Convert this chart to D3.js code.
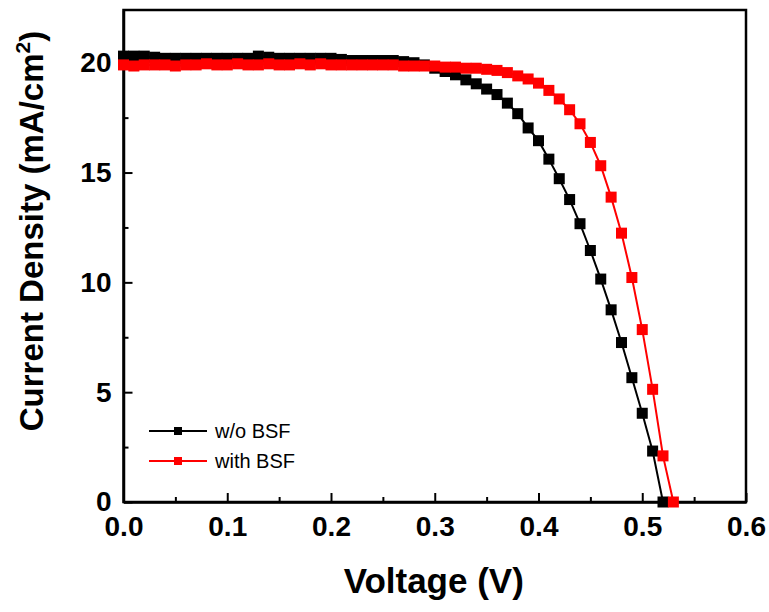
<!DOCTYPE html>
<html>
<head>
<meta charset="utf-8">
<script src="https://cdn.jsdelivr.net/npm/d3@7"></script>
<style>
  body { margin: 0; background: #fff; }
  svg text { font-family: "Liberation Sans", Arial, sans-serif; }
</style>
</head>
<body>
<svg width="769" height="612"></svg>
<script>
// voltage points (V)
const voltageA = [0.00,0.01,0.02,0.03,0.04,0.05,0.06,0.07,0.08,0.09,
    0.10,0.11,0.12,0.13,0.14,0.15,0.16,0.17,0.18,0.19,
    0.20,0.21,0.22,0.23,0.24,0.25,0.26,0.27,0.28,0.29,
    0.30,0.31,0.32,0.33,0.34,0.35,0.36,0.37,0.38,0.39,
    0.40,0.41,0.42,0.43,0.44,0.45,0.46,0.47,0.48,0.49,
    0.50,0.51,0.52];
const voltageB = [0.00,0.01,0.02,0.03,0.04,0.05,0.06,0.07,0.08,0.09,
    0.10,0.11,0.12,0.13,0.14,0.15,0.16,0.17,0.18,0.19,
    0.20,0.21,0.22,0.23,0.24,0.25,0.26,0.27,0.28,0.29,
    0.30,0.31,0.32,0.33,0.34,0.35,0.36,0.37,0.38,0.39,
    0.40,0.41,0.42,0.43,0.44,0.45,0.46,0.47,0.48,0.49,
    0.50,0.51,0.52,0.53];

// current density (mA/cm2)
const noBSF = [20.3,20.3,20.3,20.25,20.2,20.2,20.2,20.2,20.2,20.2,
    20.2,20.2,20.2,20.3,20.25,20.2,20.2,20.2,20.2,20.2,
    20.2,20.15,20.1,20.1,20.1,20.1,20.1,20.05,20.0,19.9,
    19.75,19.6,19.45,19.22,19.04,18.8,18.55,18.16,17.68,17.03,
    16.45,15.61,14.72,13.77,12.67,11.45,10.15,8.75,7.26,5.66,
    4.04,2.32,0.0];
const withBSF = [19.9,19.85,19.9,19.9,19.9,19.85,19.9,19.9,19.95,19.9,
    19.9,19.95,19.9,19.9,19.95,19.9,19.9,19.95,19.9,19.95,
    19.9,19.9,19.9,19.9,19.9,19.9,19.9,19.85,19.85,19.85,
    19.85,19.8,19.8,19.75,19.75,19.7,19.65,19.55,19.4,19.26,
    19.07,18.74,18.35,17.86,17.22,16.37,15.31,13.88,12.24,10.22,
    7.85,5.13,2.10,0.0];

const seriesNames = ["w/o BSF", "with BSF"];
const seriesColors = ["#000000", "#ff0000"];

const xMajor = [0, 0.1, 0.2, 0.3, 0.4, 0.5, 0.6];
const xMinor = [0.05, 0.15, 0.25, 0.35, 0.45, 0.55];
const yMajor = [0, 5, 10, 15, 20];
const yMinor = [2.5, 7.5, 12.5, 17.5];

const svg = d3.select("svg");
const plotL = 123.5, plotR = 746, plotT = 10, plotB = 502;

const x = d3.scaleLinear().domain([0, 0.6]).range([plotL, plotR]);
const y = d3.scaleLinear().domain([0, 22.4]).range([plotB, plotT]);

// frame
svg.append("rect")
    .attr("x", plotL).attr("y", plotT)
    .attr("width", plotR - plotL).attr("height", plotB - plotT)
    .attr("fill", "none").attr("stroke", "#000").attr("stroke-width", 2.5);

// axes, ticks pointing inward
svg.append("g")
    .attr("transform", "translate(0," + plotB + ")")
    .call(d3.axisBottom(x).tickValues(xMajor).tickFormat(d3.format(".1f"))
        .tickSizeInner(-9).tickSizeOuter(0).tickPadding(14));
svg.append("g")
    .attr("transform", "translate(0," + plotB + ")")
    .call(d3.axisBottom(x).tickValues(xMinor).tickFormat("")
        .tickSizeInner(-5).tickSizeOuter(0))
    .select(".domain").remove();

svg.append("g")
    .attr("transform", "translate(" + plotL + ",0)")
    .call(d3.axisLeft(y).tickValues(yMajor)
        .tickSizeInner(-9).tickSizeOuter(0).tickPadding(12));
svg.append("g")
    .attr("transform", "translate(" + plotL + ",0)")
    .call(d3.axisLeft(y).tickValues(yMinor).tickFormat("")
        .tickSizeInner(-5).tickSizeOuter(0))
    .select(".domain").remove();

svg.selectAll(".domain").attr("stroke-width", 2.5);
svg.selectAll(".tick line").attr("stroke-width", 2);
svg.selectAll(".tick text")
    .attr("font-size", 28).attr("font-weight", "bold")
    .attr("font-family", "'Liberation Sans', Arial, sans-serif")
    .attr("fill", "#000");

// axis titles
svg.append("text")
    .attr("x", (plotL + plotR) / 2 - 1).attr("y", 593)
    .attr("text-anchor", "middle")
    .attr("font-size", 35).attr("font-weight", "bold")
    .text("Voltage (V)");

const yTitle = svg.append("text")
    .attr("transform", "translate(43,231) rotate(-90)")
    .attr("text-anchor", "middle")
    .attr("font-size", 33).attr("font-weight", "bold");
yTitle.append("tspan").text("Current Density (mA/cm");
yTitle.append("tspan").attr("font-size", 21).attr("dy", -13).text("2");
yTitle.append("tspan").attr("dy", 13).text(")");

// curves
const data = [
    voltageA.map(function (v, i) { return [v, noBSF[i]]; }),
    voltageB.map(function (v, i) { return [v, withBSF[i]]; })
];

const line = d3.line()
    .x(function (d) { return x(d[0]); })
    .y(function (d) { return y(d[1]); });

const ms = 11;
data.forEach(function (pts, k) {
    const g = svg.append("g");
    g.append("path")
        .attr("d", line(pts))
        .attr("fill", "none")
        .attr("stroke", seriesColors[k])
        .attr("stroke-width", 2);
    g.selectAll("rect")
        .data(pts)
        .enter().append("rect")
        .attr("x", function (d) { return x(d[0]) - ms / 2; })
        .attr("y", function (d) { return y(d[1]) - ms / 2; })
        .attr("width", ms).attr("height", ms)
        .attr("fill", seriesColors[k]);
});

// legend
const legend = svg.append("g");
seriesNames.forEach(function (name, k) {
    const ly = 431 + k * 30;
    legend.append("line")
        .attr("x1", 149).attr("x2", 207)
        .attr("y1", ly).attr("y2", ly)
        .attr("stroke", seriesColors[k]).attr("stroke-width", 2);
    legend.append("rect")
        .attr("x", 178 - 4).attr("y", ly - 4)
        .attr("width", 8).attr("height", 8)
        .attr("fill", seriesColors[k]);
    legend.append("text")
        .attr("x", 215).attr("y", ly)
        .attr("dy", "0.35em")
        .attr("font-size", 20)
        .text(name);
});
</script>
</body>
</html>
